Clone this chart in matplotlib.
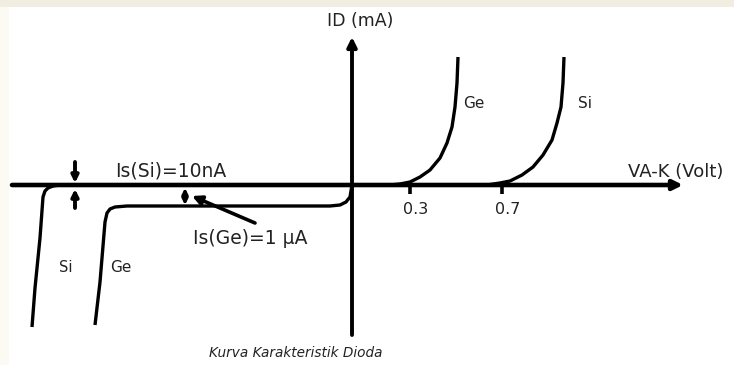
import matplotlib.pyplot as plt
from matplotlib.patches import Rectangle

# diagram units: origin where the two axes cross, y upward (arbitrary scale)
ge_fwd_x = [25, 38, 48, 58, 68, 78, 88, 95, 100, 103, 105, 106]
ge_fwd_y = [0, 0, 1, 3, 8, 15, 27, 42, 58, 78, 102, 128]
si_fwd_x = [120, 135, 148, 158, 170, 181, 191, 200, 205, 209, 211, 212]
si_fwd_y = [0, 0, 2, 4, 10, 18, 30, 45, 62, 78, 102, 128]

si_rev_x = [-320, -317, -312, -309, -307, -304, -299, -292, 0]
si_rev_y = [-142, -103, -53, -12, -6, -3, -1, 0, 0]
ge_rev_x = [-257, -252, -247, -245, -242, -237, -225, -22, -12, -6, -2, -1, 0]
ge_rev_y = [-140, -97, -37, -28, -24, -22, -21, -21, -20, -17, -12, -6, 0]

tick_pos = [58, 150]
tick_labels = ['0.3', '0.7']

fig = plt.figure(figsize=(7.34, 3.65), dpi=100)
ax = fig.add_axes([0, 0, 1, 1])
ax.set_xlim(-352, 382)
ax.set_ylim(-180, 185)
ax.set_axis_off()

# faded band at the top of the picture
ax.add_patch(Rectangle((0, 0.98), 1, 0.02, transform=ax.transAxes,
                       color='#f1eee1', lw=0, zorder=0))
ax.add_patch(Rectangle((0, 0), 0.012, 0.98, transform=ax.transAxes,
                       color='#fbfaf3', lw=0, zorder=0))

# axes with arrow heads
ax.annotate('', xy=(331, 0), xytext=(-340, 0),
            arrowprops=dict(arrowstyle='-|>', lw=3.3, color='black',
                            mutation_scale=14, shrinkA=0, shrinkB=0))
ax.annotate('', xy=(0, 148), xytext=(0, -150),
            arrowprops=dict(arrowstyle='-|>', lw=2.8, color='black',
                            mutation_scale=14, shrinkA=0, shrinkB=0))

for t, lab in zip(tick_pos, tick_labels):
    ax.plot([t, t], [0, -9], color='black', lw=2.6, solid_capstyle='butt')
    ax.text(t + 6, -25, lab, ha='center', va='center', fontsize=11.5,
            color='#222222')

kw = dict(color='black', lw=2.4, solid_joinstyle='round', solid_capstyle='butt')
ax.plot(ge_fwd_x, ge_fwd_y, **kw)
ax.plot(si_fwd_x, si_fwd_y, **kw)
ax.plot(si_rev_x, si_rev_y, **kw)
ax.plot(ge_rev_x, ge_rev_y, **kw)

# saturation current markers
arr = dict(arrowstyle='-|>', lw=2.8, color='black', mutation_scale=10,
           shrinkA=0, shrinkB=0)
ax.annotate('', xy=(-277, 2), xytext=(-277, 23), arrowprops=arr)
ax.annotate('', xy=(-277, -4), xytext=(-277, -23), arrowprops=arr)
arr2 = dict(arrowstyle='-|>', lw=2.2, color='black', mutation_scale=8,
            shrinkA=0, shrinkB=0)
ax.annotate('', xy=(-167, -3), xytext=(-167, -12), arrowprops=arr2)
ax.annotate('', xy=(-167, -20), xytext=(-167, -12), arrowprops=arr2)
ax.annotate('', xy=(-160, -11), xytext=(-97, -38),
            arrowprops=dict(arrowstyle='-|>', lw=2.6, color='black',
                            mutation_scale=14, shrinkA=0, shrinkB=0))

tc = '#222222'
ax.text(8, 164, 'ID (mA)', ha='center', va='center', fontsize=12.5, color=tc)
ax.text(276, 13, 'VA-K (Volt)', ha='left', va='center', fontsize=13, color=tc)
ax.text(111, 81, 'Ge', ha='left', va='center', fontsize=11, color=tc)
ax.text(226, 81, 'Si', ha='left', va='center', fontsize=11, color=tc)
ax.text(-237, 14, 'Is(Si)=10nA', ha='left', va='center', fontsize=13.5, color=tc)
ax.text(-159, -53, 'Is(Ge)=1 µA', ha='left', va='center', fontsize=13.5, color=tc)
ax.text(-286, -82, 'Si', ha='center', va='center', fontsize=10.5, color=tc)
ax.text(-231, -82, 'Ge', ha='center', va='center', fontsize=11, color=tc)
ax.text(-56, -168, 'Kurva Karakteristik Dioda', ha='center', va='center',
        fontsize=9.8, style='italic', color=tc)

fig.savefig('out.png', dpi=100)
